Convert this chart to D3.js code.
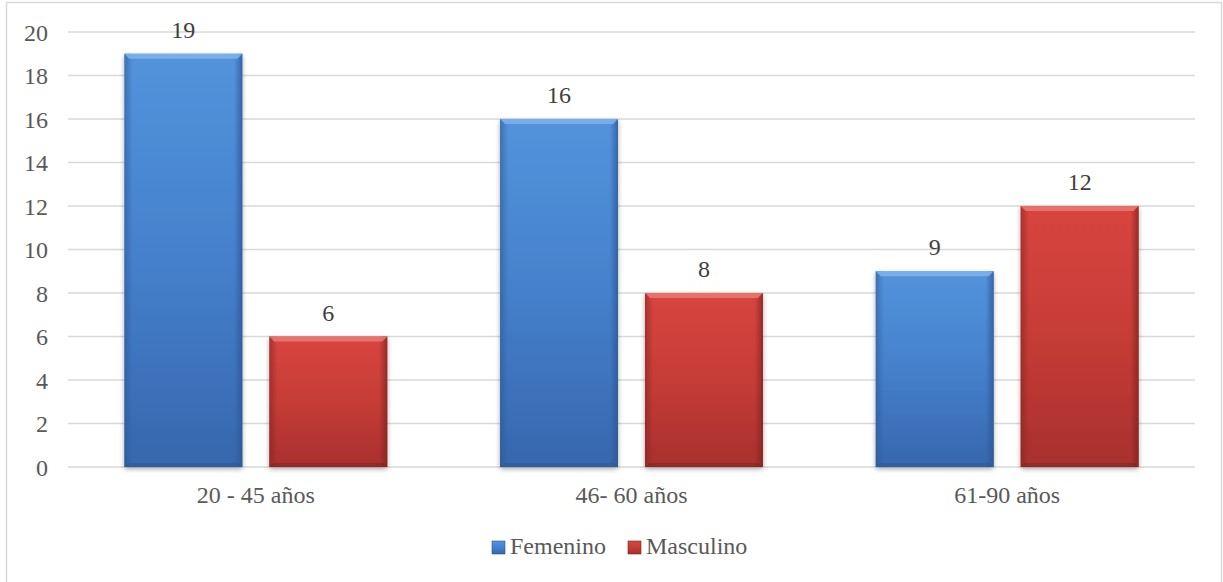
<!DOCTYPE html>
<html>
<head>
<meta charset="utf-8">
<script src="https://cdn.jsdelivr.net/npm/d3@7"></script>
</head>
<body style="margin:0">
<svg id="chart" width="1223" height="582" font-family="Liberation Serif" style="display:block"></svg>
<script>
// Age groups and counts per sex
const categories = ["20 - 45 años", "46- 60 años", "61-90 años"];
const seriesNames = ["Femenino", "Masculino"];
const femenino = [19, 16, 9];
const masculino = [6, 8, 12];
const yTicks = [0, 2, 4, 6, 8, 10, 12, 14, 16, 18, 20];

const W = 1223, H = 582;
const plot = { left: 68, right: 1195, top: 32, bottom: 467 };
const svg = d3.select("#chart");
const SERIF = "Liberation Serif";
const FS = "24px";

// Apply the serif face to a text selection
function serifText(sel) {
  sel.attr("font-family", SERIF).attr("font-size", 24)
    .style("font-family", SERIF).style("font-size", FS);
}

const rows = categories.map((c, i) => ({ cat: c, values: [femenino[i], masculino[i]] }));

const y = d3.scaleLinear().domain([0, 20]).range([plot.bottom, plot.top]);
const x0 = d3.scaleBand().domain(categories).range([plot.left, plot.right]);
const x1 = d3.scaleBand().domain(seriesNames).range([0, x0.bandwidth()])
  .paddingInner(0.186).paddingOuter(0.389);

const palette = {
  Femenino: { top: "#5393dc", mid: "#4580cc", bot: "#3667ad", edge: "#2c5592", bevel: "#7fb4ec" },
  Masculino: { top: "#d8453f", mid: "#c63c37", bot: "#a8302d", edge: "#7f2220", bevel: "#ea7a74" }
};

// Gradients for the bevelled bars
const defs = svg.append("defs");
seriesNames.forEach((s, k) => {
  const p = palette[s];
  const v = defs.append("linearGradient").attr("id", "v" + k)
    .attr("x1", 0).attr("y1", 0).attr("x2", 0).attr("y2", 1);
  v.append("stop").attr("offset", "0%").attr("stop-color", p.top);
  v.append("stop").attr("offset", "50%").attr("stop-color", p.mid);
  v.append("stop").attr("offset", "100%").attr("stop-color", p.bot);
  const h = defs.append("linearGradient").attr("id", "h" + k)
    .attr("x1", 0).attr("y1", 0).attr("x2", 1).attr("y2", 0);
  h.append("stop").attr("offset", "0%").attr("stop-color", p.edge).attr("stop-opacity", 0.55);
  h.append("stop").attr("offset", "7%").attr("stop-color", p.edge).attr("stop-opacity", 0.0);
  h.append("stop").attr("offset", "93%").attr("stop-color", p.edge).attr("stop-opacity", 0.0);
  h.append("stop").attr("offset", "100%").attr("stop-color", p.edge).attr("stop-opacity", 0.75);
});
const shadow = defs.append("filter").attr("id", "shadow")
  .attr("x", "-10%").attr("y", "-10%").attr("width", "120%").attr("height", "120%");
shadow.append("feGaussianBlur").attr("in", "SourceAlpha").attr("stdDeviation", 2.5);
shadow.append("feOffset").attr("dx", 0).attr("dy", 2).attr("result", "b");
shadow.append("feComponentTransfer").append("feFuncA").attr("type", "linear").attr("slope", 0.35);
const merge = shadow.append("feMerge");
merge.append("feMergeNode");
merge.append("feMergeNode").attr("in", "SourceGraphic");

// Outer chart border
svg.append("rect")
  .attr("x", 6.5).attr("y", 2.5).attr("width", W - 8).attr("height", H + 10)
  .attr("fill", "none").attr("stroke", "#d9d9d9").attr("stroke-width", 1.5);

// Gridlines
svg.append("g").selectAll("line").data(yTicks).join("line")
  .attr("x1", plot.left).attr("x2", plot.right)
  .attr("y1", d => y(d)).attr("y2", d => y(d))
  .attr("stroke", "#d9d9d9").attr("stroke-width", 1.5);

// Y axis labels
const yAxis = svg.append("g").attr("transform", `translate(${plot.left - 20},0)`)
  .call(d3.axisLeft(y).tickValues(yTicks).tickSize(0).tickPadding(0));
yAxis.select(".domain").remove();
yAxis.attr("font-family", SERIF).attr("font-size", 24);
yAxis.selectAll("text").call(serifText)
  .attr("fill", "#595959").attr("dy", "0.35em");

// Bars
const groups = svg.append("g").selectAll("g").data(rows).join("g")
  .attr("transform", d => `translate(${x0(d.cat)},0)`);

const bars = groups.selectAll("g.bar")
  .data(d => d.values.map((v, k) => ({ s: seriesNames[k], k, v })))
  .join("g").attr("class", "bar");

bars.append("rect")
  .attr("x", d => x1(d.s)).attr("y", d => y(d.v))
  .attr("width", x1.bandwidth()).attr("height", d => y(0) - y(d.v))
  .attr("fill", d => `url(#v${d.k})`).attr("filter", "url(#shadow)");
bars.append("rect")
  .attr("x", d => x1(d.s)).attr("y", d => y(d.v))
  .attr("width", x1.bandwidth()).attr("height", d => y(0) - y(d.v))
  .attr("fill", d => `url(#h${d.k})`);
// Top bevel
bars.append("path")
  .attr("d", d => {
    const xl = x1(d.s), xr = xl + x1.bandwidth(), yt = y(d.v), b = 5;
    return `M${xl},${yt}L${xr},${yt}L${xr - b},${yt + b}L${xl + b},${yt + b}Z`;
  })
  .attr("fill", d => palette[d.s].bevel).attr("opacity", 0.85);
// Bottom bevel
bars.append("path")
  .attr("d", d => {
    const xl = x1(d.s), xr = xl + x1.bandwidth(), yb = y(0), b = 4;
    return `M${xl},${yb}L${xr},${yb}L${xr - b},${yb - b}L${xl + b},${yb - b}Z`;
  })
  .attr("fill", d => palette[d.s].edge).attr("opacity", 0.5);

// Value labels
bars.append("text")
  .attr("x", d => x1(d.s) + x1.bandwidth() / 2)
  .attr("y", d => y(d.v) - 16)
  .attr("text-anchor", "middle")
  .call(serifText)
  .attr("fill", "#404040")
  .text(d => d.v);

// Category labels
const xAxis = svg.append("g").attr("transform", `translate(0,${plot.bottom + 36})`)
  .call(d3.axisBottom(x0).tickSize(0).tickPadding(0));
xAxis.select(".domain").remove();
xAxis.attr("font-family", SERIF).attr("font-size", 24);
xAxis.selectAll("text").call(serifText)
  .attr("fill", "#595959").attr("dy", 0);

// Legend
const legend = svg.append("g").attr("transform", "translate(0,554)");
const legendX = [492, 628];
seriesNames.forEach((s, k) => {
  const g = legend.append("g").attr("transform", `translate(${legendX[k]},0)`);
  g.append("rect").attr("x", 0).attr("y", -13).attr("width", 13).attr("height", 13)
    .attr("fill", `url(#v${k})`).attr("stroke", palette[s].edge).attr("stroke-width", 0.6);
  g.append("text").attr("x", 18).attr("y", 0)
    .call(serifText)
    .attr("fill", "#595959")
    .text(s);
});
</script>
</body>
</html>
